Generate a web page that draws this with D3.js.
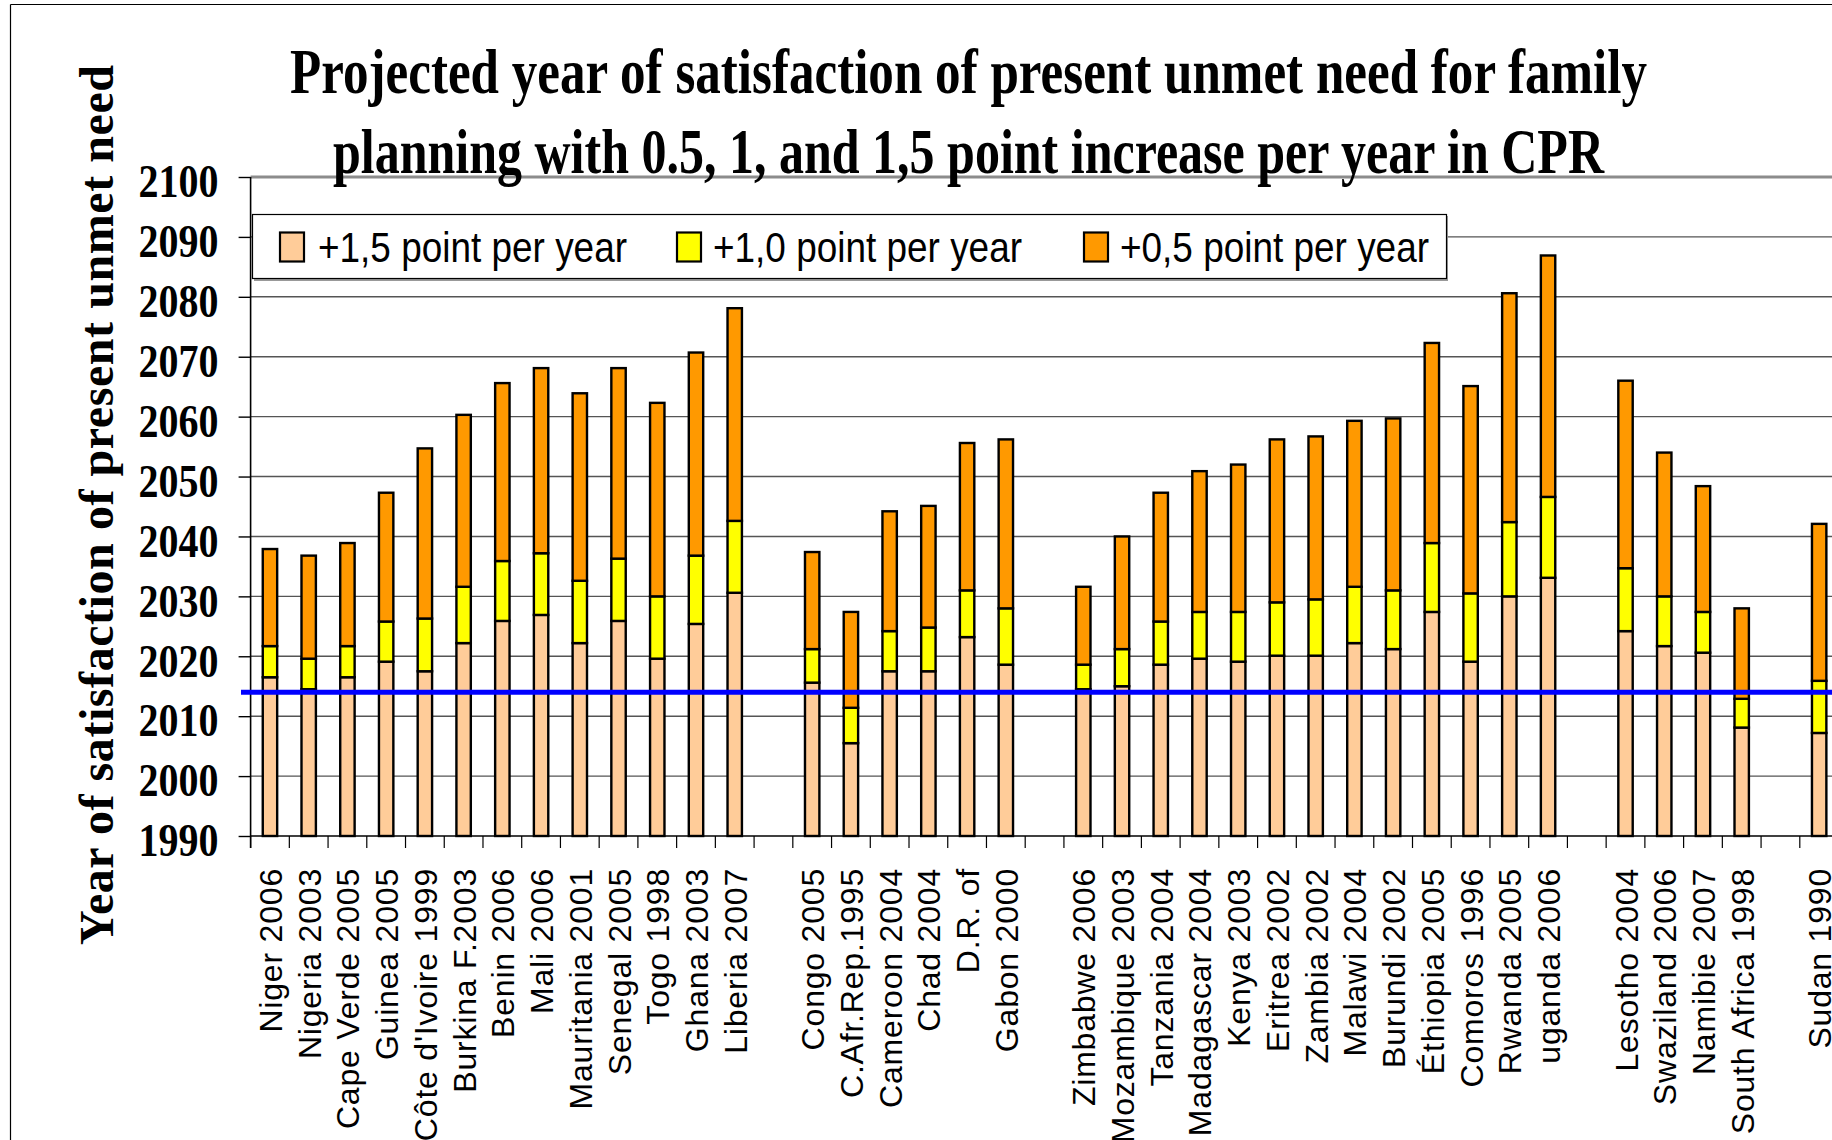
<!DOCTYPE html>
<html>
<head>
<meta charset="utf-8">
<script src="https://cdn.jsdelivr.net/npm/d3@7"></script>
<style>
  html, body { margin: 0; padding: 0; background: #fff; }
  svg { display: block; }
</style>
</head>
<body>
<div id="chart"></div>
<script>
// ---- data (empty string = empty slot between regional groups) ----
const categories = [
  "Niger 2006","Nigeria 2003","Cape Verde 2005","Guinea 2005","Côte d'Ivoire 1999",
  "Burkina F.2003","Benin 2006","Mali 2006","Mauritania 2001","Senegal 2005",
  "Togo 1998","Ghana 2003","Liberia 2007","",
  "Congo 2005","C.Afr.Rep.1995","Cameroon 2004","Chad 2004","D.R. of","Gabon 2000","",
  "Zimbabwe 2006","Mozambique 2003","Tanzania 2004","Madagascar 2004","Kenya 2003",
  "Eritrea 2002","Zambia 2002","Malawi 2004","Burundi 2002","Éthiopia 2005",
  "Comoros 1996","Rwanda 2005","uganda 2006","",
  "Lesotho 2004","Swaziland 2006","Namibie 2007","South Africa 1998","",
  "Sudan 1990"
];
// projected year reached with +1,5 point per year
const plus15 = [
  2016.5,2014.5,2016.5,2019.1,2017.5,2022.2,2025.9,2026.9,2022.2,2025.9,2019.6,2025.4,2030.6,null,
  2015.6,2005.5,2017.5,2017.5,2023.2,2018.6,null,
  2014.5,2015.0,2018.6,2019.6,2019.1,2020.1,2020.1,2022.2,2021.2,2027.4,2019.1,2030.0,2033.1,null,
  2024.2,2021.7,2020.6,2008.1,null,
  2007.2
];
// projected year reached with +1,0 point per year
const plus10 = [
  2021.7,2019.6,2021.7,2025.8,2026.3,2031.6,2035.9,2037.2,2032.6,2036.3,2030.0,2036.8,2042.6,null,
  2021.2,2011.4,2024.2,2024.8,2031.0,2028.0,null,
  2018.6,2021.2,2025.8,2027.4,2027.4,2029.0,2029.5,2031.6,2031.0,2038.9,2030.5,2042.4,2046.6,null,
  2034.7,2030.0,2027.4,2012.9,null,
  2015.9
];
// projected year reached with +0,5 point per year
const plus05 = [
  2037.9,2036.8,2038.9,2047.3,2054.7,2060.3,2065.6,2068.1,2063.9,2068.1,2062.3,2070.7,2078.1,null,
  2037.4,2027.4,2044.2,2045.1,2055.6,2056.2,null,
  2031.6,2040.0,2047.3,2050.9,2052.0,2056.2,2056.7,2059.3,2059.7,2072.3,2065.1,2080.6,2086.9,null,
  2066.0,2054.0,2048.4,2028.0,null,
  2042.1
];
const seriesNames = ["+1,5 point per year","+1,0 point per year","+0,5 point per year"];
const seriesColors = ["#FFCC99","#FFFF00","#FF9900"];
const yTicks = [1990,2000,2010,2020,2030,2040,2050,2060,2070,2080,2090,2100];
const referenceYear = 2014;
const titleLines = [
  "Projected year of satisfaction of present unmet need for family",
  "planning with 0.5, 1, and 1,5 point increase per year in CPR"
];
const yTitle = "Year of satisfaction of present unmet need";

// ---- layout ----
const W = 1832, H = 1140;
const x0 = 250.6, step = 38.73;
const svg = d3.select("#chart").append("svg").attr("width", W).attr("height", H);
svg.append("rect").attr("width", W).attr("height", H).attr("fill", "#fff");

const x = d3.scaleBand().domain(d3.range(categories.length))
  .range([x0, x0 + step * categories.length]).padding(0);
const y = d3.scaleLinear().domain([1990, 2100]).range([836, 177]);

// outer frame
svg.append("line").attr("x1", 10.5).attr("x2", 10.5).attr("y1", 4.5).attr("y2", H).attr("stroke", "#000").attr("stroke-width", 1.2);
svg.append("line").attr("x1", 10.5).attr("x2", W).attr("y1", 4.5).attr("y2", 4.5).attr("stroke", "#000").attr("stroke-width", 1.2);

// gridlines
svg.append("g").selectAll("line").data(yTicks.filter(t => t > 1990)).join("line")
  .attr("x1", x0).attr("x2", W)
  .attr("y1", d => y(d)).attr("y2", d => y(d))
  .attr("stroke", d => d === 2100 ? "#8c8c8c" : "#555")
  .attr("stroke-width", d => d === 2100 ? 3 : 1.4);

// y axis
const yAxis = d3.axisLeft(y).tickValues(yTicks).tickSize(12).tickFormat(d3.format("d"));
const gy = svg.append("g").attr("transform", `translate(${x0},0)`).call(yAxis);
gy.select(".domain").remove();
gy.selectAll(".tick line").attr("stroke", "#000").attr("stroke-width", 1.4);
gy.selectAll(".tick text")
  .attr("x", -32).attr("dy", "0.42em")
  .attr("font-family", "'Liberation Serif', 'Times New Roman', serif")
  .attr("font-weight", "bold").attr("font-size", 47).attr("fill", "#000")
  .attr("textLength", 80).attr("lengthAdjust", "spacingAndGlyphs");
svg.append("line").attr("x1", x0).attr("x2", x0).attr("y1", y(2100)).attr("y2", 848)
  .attr("stroke", "#000").attr("stroke-width", 1.6);

// x axis line and category boundary ticks
svg.append("line").attr("x1", x0).attr("x2", W).attr("y1", y(1990)).attr("y2", y(1990))
  .attr("stroke", "#000").attr("stroke-width", 1.6);
svg.append("g").selectAll("line").data(d3.range(categories.length + 1)).join("line")
  .attr("x1", i => x0 + i * x.step()).attr("x2", i => x0 + i * x.step())
  .attr("y1", y(1990)).attr("y2", y(1990) + 12)
  .attr("stroke", "#000").attr("stroke-width", 1.2);

// stacked bars
const barW = 14.4;
const segs = [];
categories.forEach((c, i) => {
  if (plus15[i] == null) return;
  const tops = [plus15[i], plus10[i], plus05[i]];
  let base = 1990;
  tops.forEach((t, k) => { segs.push({i, k, y0: base, y1: t}); base = t; });
});
svg.append("g").selectAll("rect").data(segs).join("rect")
  .attr("x", d => x(d.i) + x.bandwidth() / 2 - barW / 2)
  .attr("width", barW)
  .attr("y", d => y(d.y1))
  .attr("height", d => y(d.y0) - y(d.y1))
  .attr("fill", d => seriesColors[d.k])
  .attr("stroke", "#000").attr("stroke-width", 2.4);

// reference line
svg.append("line").attr("x1", 241).attr("x2", W)
  .attr("y1", y(referenceYear)).attr("y2", y(referenceYear))
  .attr("stroke", "#0000FF").attr("stroke-width", 5);

// x labels
svg.append("g").selectAll("text").data(categories.map((c, i) => ({c, i})).filter(d => d.c))
  .join("text")
  .attr("transform", d => `translate(${x(d.i) + x.bandwidth() / 2 + 12},868) rotate(-90)`)
  .attr("text-anchor", "end")
  .attr("font-family", "'Liberation Sans', Arial, sans-serif")
  .attr("font-size", 32).attr("letter-spacing", 0.8).attr("fill", "#000")
  .text(d => d.c);

// title
const titleX = [[290, 1357, 93], [333, 1271, 173]];
svg.append("g").selectAll("text").data(titleLines).join("text")
  .attr("x", (d, i) => titleX[i][0]).attr("y", (d, i) => titleX[i][2])
  .attr("textLength", (d, i) => titleX[i][1]).attr("lengthAdjust", "spacingAndGlyphs")
  .attr("font-family", "'Liberation Serif', 'Times New Roman', serif")
  .attr("font-weight", "bold").attr("font-size", 64).attr("fill", "#000")
  .text(d => d);

// y title
svg.append("text")
  .attr("transform", "translate(113,505) rotate(-90)")
  .attr("text-anchor", "middle")
  .attr("font-family", "'Liberation Serif', 'Times New Roman', serif")
  .attr("font-weight", "bold").attr("font-size", 48).attr("fill", "#000")
  .attr("textLength", 880).attr("lengthAdjust", "spacing")
  .text(yTitle);

// legend
const lg = svg.append("g");
lg.append("rect").attr("x", 254).attr("y", 216).attr("width", 1194).attr("height", 65).attr("fill", "#999");
lg.append("rect").attr("x", 252.5).attr("y", 214.5).attr("width", 1194).attr("height", 64)
  .attr("fill", "#fff").attr("stroke", "#000").attr("stroke-width", 1.2);
const legendPos = [[280, 318], [677, 713], [1084, 1120]];
seriesNames.forEach((n, k) => {
  lg.append("rect").attr("x", legendPos[k][0]).attr("y", 232.5).attr("width", 24).attr("height", 29)
    .attr("fill", seriesColors[k]).attr("stroke", "#000").attr("stroke-width", 2.2);
  lg.append("text").attr("x", legendPos[k][1]).attr("y", 262)
    .attr("font-family", "'Liberation Sans', Arial, sans-serif")
    .attr("font-size", 42).attr("fill", "#000")
    .attr("textLength", 309).attr("lengthAdjust", "spacingAndGlyphs")
    .text(n);
});
</script>
</body>
</html>
